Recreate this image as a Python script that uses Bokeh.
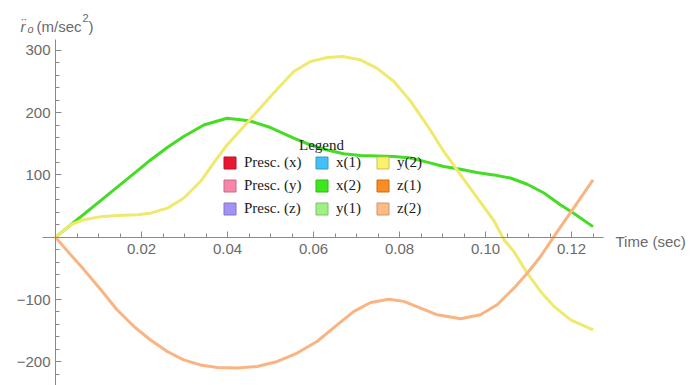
from bokeh.plotting import figure
from bokeh.models import (Range1d, FixedTicker, PrintfTickFormatter, Label,
                          Legend, LegendItem)
from bokeh.embed import file_html
from bokeh.resources import INLINE

# ---------------- data ----------------
t_x2 = [0, 0.005, 0.01, 0.015, 0.02, 0.0221, 0.026, 0.0298, 0.0345, 0.0399,
        0.045, 0.05, 0.0554, 0.0593, 0.0632, 0.067, 0.0709, 0.0748, 0.0787,
        0.0826, 0.0864, 0.0903, 0.0942, 0.098, 0.1019, 0.1058, 0.1097, 0.1136,
        0.1174, 0.1205, 0.125]
v_x2 = [0, 28, 56, 84, 112, 124, 144, 161.6, 180, 191, 187, 176, 159, 148, 140,
        134, 131, 130.5, 129.5, 127, 120.5, 113.5, 109, 104, 100, 95, 85, 71,
        52, 38.5, 17]

t_y2 = [0, 0.0035, 0.0066, 0.0105, 0.0143, 0.019, 0.0221, 0.026, 0.0298,
        0.0337, 0.0376, 0.0399, 0.045, 0.05, 0.0554, 0.0593, 0.0632, 0.0667,
        0.0709, 0.0748, 0.0787, 0.0826, 0.0864, 0.0903, 0.0942, 0.098, 0.102,
        0.1043, 0.1066, 0.1097, 0.1128, 0.1159, 0.1198, 0.125]
v_y2 = [0, 20, 28, 33, 35, 36, 38.6, 46.6, 62.6, 89.4, 126.8, 148, 187, 226,
        266, 282, 288.4, 290, 284.7, 271, 250, 218, 180, 137.6, 100, 64, 26,
        -4, -23, -57.8, -87, -111, -132.6, -148.7]

t_z2 = [0, 0.0035, 0.0066, 0.0105, 0.0143, 0.0182, 0.0221, 0.026, 0.0298,
        0.0337, 0.0376, 0.0423, 0.0469, 0.0516, 0.0562, 0.0609, 0.0655, 0.0694,
        0.0733, 0.0775, 0.081, 0.0849, 0.0888, 0.0942, 0.0988, 0.1027, 0.1066,
        0.1097, 0.1128, 0.1159, 0.1202, 0.125]
v_z2 = [0, -28, -52, -84, -116.5, -143, -165, -183.5, -197, -205, -209, -210,
        -207.5, -199.5, -186, -167, -140.6, -119, -104.8, -99.5, -103, -114,
        -124.6, -131, -124.6, -108.5, -81.8, -57.8, -31, 1, 44, 92]

legend_labels = ["Presc. (x)", "Presc. (y)", "Presc. (z)",
                 "x(1)", "x(2)", "y(1)",
                 "y(2)", "z(1)", "z(2)"]
legend_colors = ["#E8172F", "#F886A8", "#A391F7",
                 "#45C0F7", "#3CE81C", "#9EF285",
                 "#FAF26A", "#FB8B22", "#FFBB85"]

x_major = [0.02, 0.04, 0.06, 0.08, 0.10, 0.12]
x_minor = [i * 0.005 for i in range(1, 26)]
y_major = [-200, -100, 100, 200, 300]
y_minor = list(range(-220, 320, 20))
y_tick_labels = {-200: "\u2212200", -100: "\u2212100", 100: "100",
                 200: "200", 300: "300"}

# ---------------- figure ----------------
W, H = 699, 385
X0PX, XSCALE = 55.0, 4300.0
Y0PX, YSCALE = 236.7, 0.623

p = figure(width=W, height=H, output_backend="svg", toolbar_location=None,
           x_range=Range1d(-X0PX / XSCALE, (W - X0PX) / XSCALE),
           y_range=Range1d(-(H - Y0PX) / YSCALE, Y0PX / YSCALE),
           min_border=0, min_border_left=0, min_border_right=0,
           min_border_top=0, min_border_bottom=0)
p.outline_line_color = None
p.grid.visible = False
p.background_fill_color = "white"
p.border_fill_color = "white"

AX_COL = "#8a8a8a"
LAB_COL = "#6a6a6a"
FONT = "Liberation Sans"

for ax in (p.xaxis[0], p.yaxis[0]):
    ax.fixed_location = 0
    ax.axis_line_color = AX_COL
    ax.major_tick_line_color = AX_COL
    ax.minor_tick_line_color = AX_COL
    ax.major_tick_in = 6
    ax.major_tick_out = 0
    ax.minor_tick_in = 4
    ax.minor_tick_out = 0
    ax.major_label_text_color = LAB_COL
    ax.major_label_text_font = FONT
    ax.major_label_text_font_size = "15px"

p.xaxis.major_label_standoff = 7
p.yaxis.major_label_standoff = 5

p.xaxis.ticker = FixedTicker(ticks=x_major, minor_ticks=x_minor)
p.xaxis.formatter = PrintfTickFormatter(format="%.2f")
p.xaxis.bounds = (-0.003, 0.1275)
p.yaxis.ticker = FixedTicker(ticks=y_major, minor_ticks=y_minor)
p.yaxis.major_label_overrides = y_tick_labels
p.yaxis.bounds = (-240, 318)

# ---------------- curves ----------------
r_x2 = p.line(t_x2, v_x2, line_color="#45DC24", line_width=3, line_join="round")
r_y2 = p.line(t_y2, v_y2, line_color="#EFE96E", line_width=3, line_join="round")
r_z2 = p.line(t_z2, v_z2, line_color="#F9B482", line_width=3, line_join="round")

# ---------------- legend (three columns) ----------------
def darker(hexcol, f=0.75):
    r = int(int(hexcol[1:3], 16) * f)
    g = int(int(hexcol[3:5], 16) * f)
    b = int(int(hexcol[5:7], 16) * f)
    return "#%02x%02x%02x" % (r, g, b)

NAN = float("nan")
items = []
for lab, col in zip(legend_labels, legend_colors):
    rr = p.rect(x=[NAN], y=[NAN], width=1, height=1, fill_color=col,
                line_color=darker(col, 0.8), line_width=1)
    items.append(LegendItem(label=lab, renderers=[rr]))

col_x = [222, 314, 375]
for ci in range(3):
    lg = Legend(items=items[ci * 3:(ci + 1) * 3], location=(col_x[ci], 168),
                orientation="vertical", padding=0, margin=0, spacing=6,
                glyph_width=15, glyph_height=15, label_height=15,
                label_standoff=7, label_text_font="Liberation Serif",
                label_text_font_size="15px", label_text_color="#1a1a1a",
                background_fill_alpha=0, border_line_alpha=0)
    p.add_layout(lg, "center")

p.add_layout(Label(x=321, y=H - 144, x_units="screen", y_units="screen",
                   text="Legend", text_align="center",
                   text_baseline="alphabetic", text_font="Liberation Serif",
                   text_font_size="15px", text_color="#1a1a1a"))

# ---------------- axis captions ----------------
def cap(x, y, text, size="15px", style="normal"):
    p.add_layout(Label(x=x, y=H - y, x_units="screen", y_units="screen",
                       text=text, text_align="left",
                       text_baseline="alphabetic", text_font=FONT,
                       text_font_size=size, text_font_style=style,
                       text_color=LAB_COL))

cap(20, 26, "r\u0308", style="italic")
cap(27, 28, "o", size="11px", style="italic")
cap(36, 26, "(m/sec")
cap(82, 17, "2", size="11px")
cap(88, 26, ")")
cap(615, 241, "Time (sec)")

open("out.html", "w").write(file_html(p, INLINE))
